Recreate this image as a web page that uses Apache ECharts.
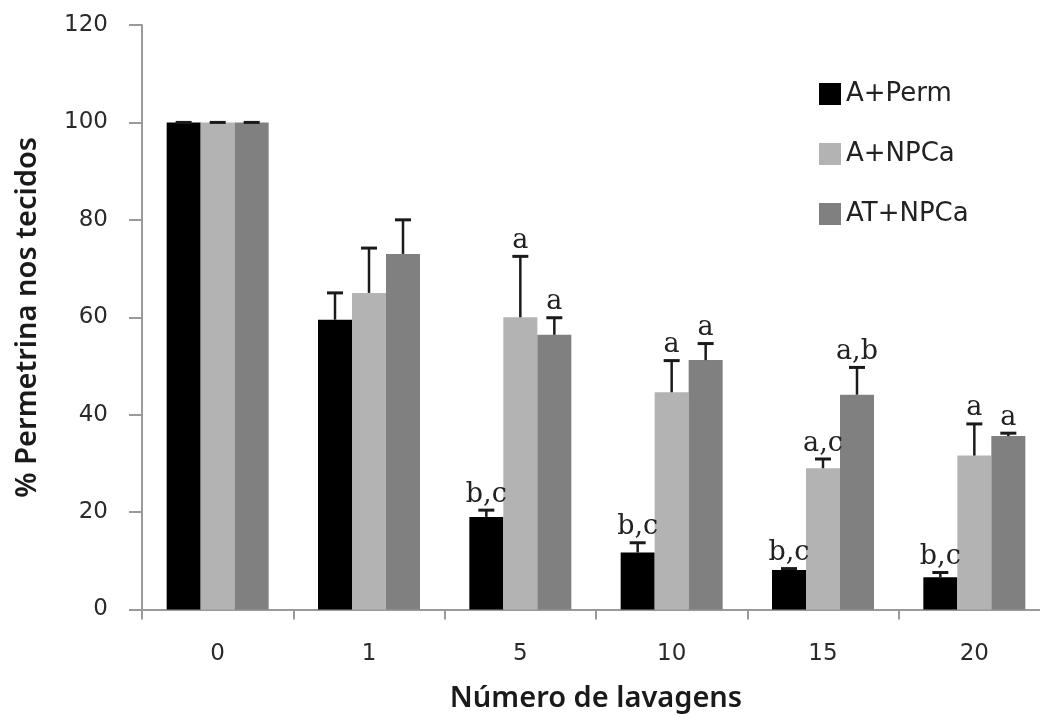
<!DOCTYPE html>
<html>
<head>
<meta charset="utf-8">
<script src="https://cdn.jsdelivr.net/npm/echarts@6/dist/echarts.min.js"></script>
<style>html,body{margin:0;padding:0;background:#fff;}#c{width:1040px;height:717px;}</style>
</head>
<body>
<div id="c"></div>
<script>
const categories = ['0', '1', '5', '10', '15', '20'];
const seriesNames = ['A+Perm', 'A+NPCa', 'AT+NPCa'];
const permValues = [100, 59.5, 19.0, 11.7, 8.1, 6.6];
const permErr = [0, 5.5, 1.4, 2.0, 0.3, 1.0];
const npcaValues = [100, 65.0, 60.0, 44.6, 29.0, 31.6];
const npcaErr = [0, 9.2, 12.5, 6.5, 1.9, 6.5];
const atValues = [100, 73.0, 56.4, 51.2, 44.1, 35.6];
const atErr = [0, 7.0, 3.5, 3.4, 5.6, 0.6];
const permLetters = ['', '', 'b,c', 'b,c', 'b,c', 'b,c'];
const npcaLetters = ['', '', 'a', 'a', 'a,c', 'a'];
const atLetters = ['', '', 'a', 'a', 'a,b', 'a'];
const yTicks = { min: 0, max: 120, interval: 20 };

const colors = ['#000000', '#b3b3b3', '#808080'];
const BAR_W = 34;
const allValues = [permValues, npcaValues, atValues];
const allErr = [permErr, npcaErr, atErr];
const allLetters = [permLetters, npcaLetters, atLetters];

const chart = echarts.init(document.getElementById('c'));

const barSeries = seriesNames.map((name, s) => ({
  name: name,
  type: 'bar',
  data: allValues[s],
  barWidth: BAR_W,
  barGap: '0%',
  itemStyle: { color: colors[s] },
  z: 2
}));

const errSeries = seriesNames.map((name, s) => ({
  name: 'err' + s,
  type: 'custom',
  data: categories.map((c, i) => [i, allValues[s][i], allErr[s][i]]),
  z: 5,
  renderItem: function (params, api) {
    const i = api.value(0);
    const v = api.value(1);
    const e = api.value(2);
    const base = api.coord([i, v]);
    const top = api.coord([i, v + e]);
    const x = base[0] + (s - 1) * BAR_W;
    const children = [
      { type: 'line', shape: { x1: x, y1: base[1], x2: x, y2: top[1] },
        style: { stroke: '#1a1a1a', lineWidth: 2.5 } },
      { type: 'line', shape: { x1: x - 8, y1: top[1], x2: x + 8, y2: top[1] },
        style: { stroke: '#1a1a1a', lineWidth: 3 } }
    ];
    const txt = allLetters[s][params.dataIndex];
    if (txt) {
      children.push({
        type: 'text',
        style: {
          text: txt, x: x, y: top[1] - 2,
          textAlign: 'center', textVerticalAlign: 'bottom',
          font: '27px "DejaVu Serif", serif', fill: '#222'
        }
      });
    }
    return { type: 'group', children: children };
  }
}));

chart.setOption({
  animation: false,
  backgroundColor: '#ffffff',
  grid: { left: 142, right: -10, top: 25, bottom: 107.5, containLabel: false, outerBoundsMode: 'none' },
  legend: {
    data: seriesNames,
    orient: 'vertical',
    left: 814, top: 76,
    itemWidth: 22, itemHeight: 22, itemGap: 34,
    icon: 'rect',
    textStyle: { fontFamily: 'DejaVu Sans', fontSize: 26, color: '#222' }
  },
  xAxis: {
    type: 'category',
    data: categories,
    name: 'Número de lavagens',
    nameLocation: 'middle',
    nameGap: 75,
    nameTextStyle: { fontFamily: 'Noto Sans', fontSize: 29, fontWeight: 600, color: '#1a1a1a' },
    axisLine: { lineStyle: { color: '#9a9a9a', width: 2 } },
    axisTick: { show: true, length: 10, lineStyle: { color: '#9a9a9a', width: 2 } },
    axisLabel: { margin: 33, fontFamily: 'DejaVu Sans', fontSize: 23, color: '#2a2a2a' },
    splitLine: { show: false }
  },
  yAxis: {
    type: 'value',
    min: yTicks.min, max: yTicks.max, interval: yTicks.interval,
    name: '% Permetrina nos tecidos',
    nameLocation: 'middle',
    nameGap: 100,
    nameTextStyle: { fontFamily: 'Noto Sans', fontSize: 29, fontWeight: 600, color: '#1a1a1a' },
    axisLine: { show: true, lineStyle: { color: '#9a9a9a', width: 2 } },
    axisTick: { show: true, length: 13, lineStyle: { color: '#9a9a9a', width: 2 } },
    axisLabel: { margin: 34, fontFamily: 'DejaVu Sans', fontSize: 23, color: '#2a2a2a' },
    splitLine: { show: false }
  },
  series: barSeries.concat(errSeries)
});
</script>
</body>
</html>
